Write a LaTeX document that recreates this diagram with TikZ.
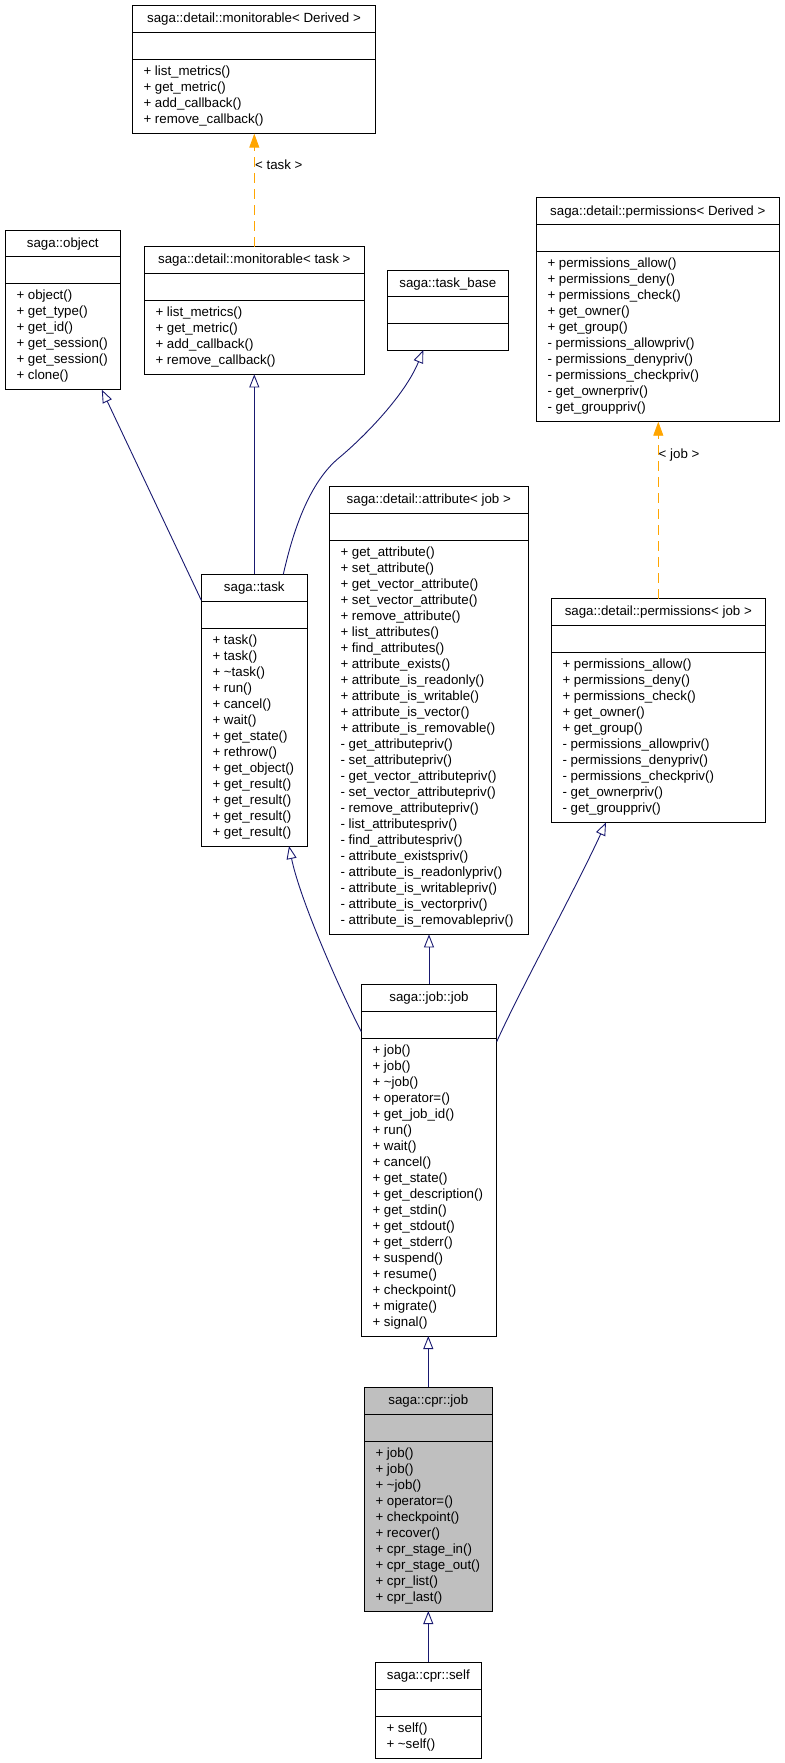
\documentclass[tikz,border=0pt]{standalone}
\usepackage{fontspec}
\setmainfont{Liberation Sans}
\usetikzlibrary{arrows.meta}
\definecolor{midblue}{HTML}{191970}
\definecolor{orangeedge}{HTML}{FFA500}
\definecolor{boxgray}{HTML}{BFBFBF}
\tikzset{
  classbox/.style={draw=black, line width=1pt, inner sep=0pt, outer sep=0pt, anchor=north west},
  ctext/.style={font=\fontsize{13.3}{16}\selectfont, inner sep=0pt, text=black},
  inherit/.style={draw=midblue, line width=0.9pt, -{Triangle[open, length=13pt, width=10pt]}},
  templ/.style={draw=orangeedge, line width=0.9pt, dash pattern=on 10pt off 6pt, -{Triangle[length=14pt, width=10pt, fill=orangeedge]}},
}
% #1 fill, #2 name, #3 x, #4 y, #5 width, #6 number of members, #7 title, #8 members
\newcommand\umlclass[8][white]{%
  \pgfmathsetmacro\boxh{ifthenelse(#6==0,80,63.7+16*#6)}%
  \node[classbox, fill=#1, minimum width=#5pt, minimum height=\boxh pt] (#2) at (#3,#4) {};
  \draw[line width=1pt] ([yshift=-26.7pt]#2.north west) -- ([yshift=-26.7pt]#2.north east);
  \draw[line width=1pt] ([yshift=-53.7pt]#2.north west) -- ([yshift=-53.7pt]#2.north east);
  \node[ctext, anchor=base] (#2-title) at ([yshift=-17pt]#2.north) {#7};
  \ifnum#6>0
    \foreach \m [count=\i] in {#8} {%
      \node[ctext, anchor=base west] (#2-m\i) at ([xshift=11pt, yshift={-(69.7+16*(\i-1))*1pt}]#2.north west) {\m};
    }%
  \fi
}
\begin{document}
\begin{tikzpicture}[x=1pt, y=-1pt]
\useasboundingbox (0,0) rectangle (784,1763);

\umlclass{monD}{132.3}{6}{243.4}{4}{saga::detail::monitorable< Derived >}
  {+ list\_metrics(), + get\_metric(), + add\_callback(), + remove\_callback()}

\umlclass{object}{5.3}{230}{115}{6}{saga::object}
  {+ object(), + get\_type(), + get\_id(), + get\_session(), + get\_session(), + clone()}

\umlclass{monT}{144.3}{246.7}{220}{4}{saga::detail::monitorable< task >}
  {+ list\_metrics(), + get\_metric(), + add\_callback(), + remove\_callback()}

\umlclass{taskbase}{387.3}{270}{121}{0}{saga::task\_base}{}

\umlclass{permD}{536.3}{198}{243}{10}{saga::detail::permissions< Derived >}
  {+ permissions\_allow(), + permissions\_deny(), + permissions\_check(), + get\_owner(), + get\_group(),
   - permissions\_allowpriv(), - permissions\_denypriv(), - permissions\_checkpriv(), - get\_ownerpriv(), - get\_grouppriv()}

\umlclass{task}{201.3}{574.3}{106}{13}{saga::task}
  {+ task(), + task(), + \textasciitilde{}task(), + run(), + cancel(), + wait(), + get\_state(), + rethrow(),
   + get\_object(), + get\_result(), + get\_result(), + get\_result(), + get\_result()}

\umlclass{attr}{329.3}{486.7}{199}{24}{saga::detail::attribute< job >}
  {+ get\_attribute(), + set\_attribute(), + get\_vector\_attribute(), + set\_vector\_attribute(),
   + remove\_attribute(), + list\_attributes(), + find\_attributes(), + attribute\_exists(),
   + attribute\_is\_readonly(), + attribute\_is\_writable(), + attribute\_is\_vector(), + attribute\_is\_removable(),
   - get\_attributepriv(), - set\_attributepriv(), - get\_vector\_attributepriv(), - set\_vector\_attributepriv(),
   - remove\_attributepriv(), - list\_attributespriv(), - find\_attributespriv(), - attribute\_existspriv(),
   - attribute\_is\_readonlypriv(), - attribute\_is\_writablepriv(), - attribute\_is\_vectorpriv(), - attribute\_is\_removablepriv()}

\umlclass{permJ}{551.3}{598.7}{214}{10}{saga::detail::permissions< job >}
  {+ permissions\_allow(), + permissions\_deny(), + permissions\_check(), + get\_owner(), + get\_group(),
   - permissions\_allowpriv(), - permissions\_denypriv(), - permissions\_checkpriv(), - get\_ownerpriv(), - get\_grouppriv()}

\umlclass{job}{361.3}{984.3}{135.4}{18}{saga::job::job}
  {+ job(), + job(), + \textasciitilde{}job(), + operator=(), + get\_job\_id(), + run(), + wait(), + cancel(),
   + get\_state(), + get\_description(), + get\_stdin(), + get\_stdout(), + get\_stderr(), + suspend(),
   + resume(), + checkpoint(), + migrate(), + signal()}

\umlclass[boxgray]{cprjob}{364.3}{1387.3}{128}{10}{saga::cpr::job}
  {+ job(), + job(), + \textasciitilde{}job(), + operator=(), + checkpoint(), + recover(),
   + cpr\_stage\_in(), + cpr\_stage\_out(), + cpr\_list(), + cpr\_last()}

\umlclass{self}{375.3}{1662.3}{106}{2}{saga::cpr::self}
  {+ self(), + \textasciitilde{}self()}

% template instantiation edges
\draw[templ] (monT.north) -- (monT.north |- monD.south);
\node[ctext, anchor=base west] (lbltask) at (255,169.3) {< task >};
\draw[templ] (permJ.north) -- (permJ.north |- permD.south);
\node[ctext, anchor=base west] (lbljob) at (658.5,458.3) {< job >};

% inheritance edges
\draw[inherit] ([yshift=-26pt]task.north west) -- ([xshift=39pt]object.south);
\draw[inherit] (task.north) -- (task.north |- monT.south);
\draw[inherit] ([xshift=29pt]task.north) .. controls (290,545) and (305,485) .. (340,457)
  .. controls (365,436) and (405,395) .. ([xshift=-24.5pt]taskbase.south);
\draw[inherit] ([yshift=-47.4pt]job.north west) .. controls (340,990) and (300,900) .. ([xshift=34.7pt]task.south);
\draw[inherit] (job.north) -- (job.north |- attr.south);
\draw[inherit] ([yshift=-57.4pt]job.north east) .. controls (520,990) and (575,890) .. ([xshift=-52.3pt]permJ.south);
\draw[inherit] (cprjob.north) -- (cprjob.north |- job.south);
\draw[inherit] (self.north) -- (self.north |- cprjob.south);
\end{tikzpicture}
\end{document}
